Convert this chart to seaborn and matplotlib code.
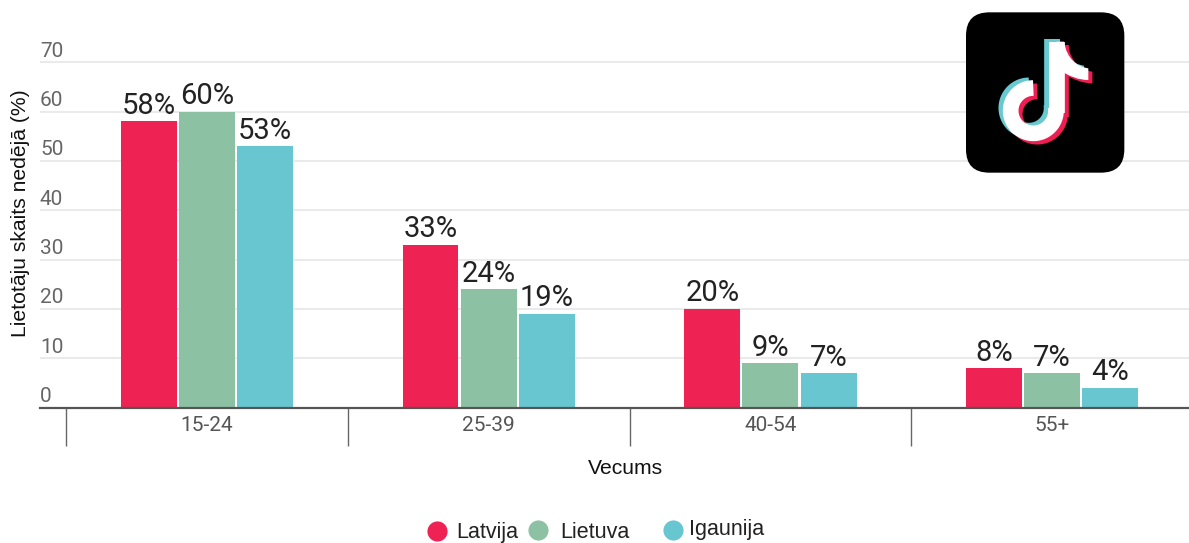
import numpy as np
import pandas as pd
import matplotlib
matplotlib.use('Agg')
import matplotlib.pyplot as plt
import seaborn as sns
from matplotlib.lines import Line2D
from matplotlib.patches import FancyBboxPatch, PathPatch
from matplotlib.path import Path

age_groups = ['15-24', '25-39', '40-54', '55+']
countries = ['Latvija', 'Lietuva', 'Igaunija']
latvija = [58, 33, 20, 8]
lietuva = [60, 24, 9, 7]
igaunija = [53, 19, 7, 4]
y_ticks = [0, 10, 20, 30, 40, 50, 60, 70]
colors = ['#EE2253', '#8DC1A4', '#67C6CF']

W, H = 1189, 543

sns.set_theme(style='white')
plt.rcParams['font.family'] = ['Roboto', 'DejaVu Sans']

df = pd.DataFrame({
    'Vecums': age_groups * 3,
    'Valsts': [c for c in countries for _ in age_groups],
    'Lietotaji': latvija + lietuva + igaunija,
})

fig = plt.figure(figsize=(W / 100, H / 100), dpi=100)
# axes box in pixels: x 40..1189, baseline at 407.5, top at 40
ax = fig.add_axes([40 / W, 1 - 407.5 / H, 1149 / W, 367.5 / H])

sns.barplot(data=df, x='Vecums', y='Lietotaji', hue='Valsts', hue_order=countries,
            palette=colors, saturation=1, width=0.62, gap=0.04, linewidth=0, legend=False, ax=ax)

ax.set_xlim(-0.593, 3.486)
ax.set_ylim(0, 74.5)

for container in ax.containers:
    ax.bar_label(container, fmt='%g%%', fontsize=21, color='#222222', padding=1)

# gridlines, labels sit above the line
ax.set_yticks(y_ticks)
ax.tick_params(axis='y', length=0, labelleft=False)
ax.grid(axis='y', color='#E6E6E6', lw=1.2)
ax.set_axisbelow(True)
for v in y_ticks:
    ax.annotate(str(v), xy=(0, v), xycoords=ax.get_yaxis_transform(), xytext=(0, 4),
                textcoords='offset points', ha='left', va='baseline', fontsize=15, color='#666666')

# separators between the age groups, labels in the middle
ax.set_xticks([-0.5, 0.5, 1.5, 2.5])
ax.set_xticklabels([])
ax.set_xticks(range(4), labels=age_groups, minor=True)
ax.tick_params(axis='x', which='major', length=27, width=1, color='#666666', bottom=True)
ax.tick_params(axis='x', which='minor', length=0, pad=6, labelsize=15, labelcolor='#555555')
ax.set_xlabel('')
ax.set_ylabel('')

sns.despine(ax=ax, left=True)
ax.spines['bottom'].set_color('#555555')
ax.spines['bottom'].set_linewidth(1.6)


def fx(px):
    return px / W


def fy(py):
    return 1 - py / H


fig.text(fx(21), fy(213), 'Lietotāju skaits nedējā (%)', rotation=90, ha='center', va='center',
         fontsize=15.2, family='Liberation Sans', color='#111111')
fig.text(fx(625), fy(468), 'Vecums', ha='center', va='center',
         fontsize=15.2, family='Liberation Sans', color='#111111')

# legend, entries are not quite on one line in the original
legend_marks = [(437, 531), (538, 530), (673, 530)]
legend_text = [(456, 532.5), (560, 532.5), (689, 530)]
for name, col, (mx, my), (tx, ty) in zip(countries, colors, legend_marks, legend_text):
    fig.add_artist(Line2D([fx(mx)], [fy(my)], marker='o', ms=14.5, color=col, mec='none',
                          ls='none', transform=fig.transFigure))
    fig.text(fx(tx), fy(ty), name, ha='left', va='center', fontsize=15.5,
             family='Liberation Sans', color='#222222')

# TikTok logo, coordinates follow a 3x crop of the 210x190 corner
logo = fig.add_axes([940 / W, 1 - 190 / H, 210 / W, 190 / H], zorder=5)
logo.set_xlim(0, 630)
logo.set_ylim(570, 0)
logo.axis('off')
logo.add_patch(FancyBboxPatch((118, 77), 395, 401, boxstyle='round,pad=40,rounding_size=70',
                              fc='black', ec='none', clip_on=False))


def draw_note(dx, dy, col, layer):
    t = np.linspace(np.pi * 0.5, np.pi * 2.05, 60)
    xs = 280 + 68 * np.cos(t) + dx
    ys = 332 - 68 * np.sin(t) + dy
    logo.plot(xs, ys, color=col, lw=11.3, solid_capstyle='butt', zorder=layer)
    logo.plot([350 + dx, 350 + dx], [340 + dy, 125 + dy], color=col, lw=11.3,
              solid_capstyle='butt', zorder=layer)
    verts = [(350 + dx, 125 + dy), (372 + dx, 125 + dy), (380 + dx, 175 + dy), (410 + dx, 200 + dy),
             (445 + dx, 205 + dy), (445 + dx, 240 + dy), (420 + dx, 240 + dy), (390 + dx, 232 + dy),
             (350 + dx, 205 + dy), (350 + dx, 125 + dy)]
    codes = [Path.MOVETO, Path.LINETO, Path.CURVE4, Path.CURVE4, Path.CURVE4, Path.LINETO,
             Path.CURVE4, Path.CURVE4, Path.CURVE4, Path.CLOSEPOLY]
    logo.add_patch(PathPatch(Path(verts, codes), fc=col, ec='none', zorder=layer))


draw_note(-13, -8, '#69C9D0', 3)
draw_note(12, 10, '#EE1D52', 4)
draw_note(0, 0, 'white', 5)

fig.savefig('out.png', dpi=100)
